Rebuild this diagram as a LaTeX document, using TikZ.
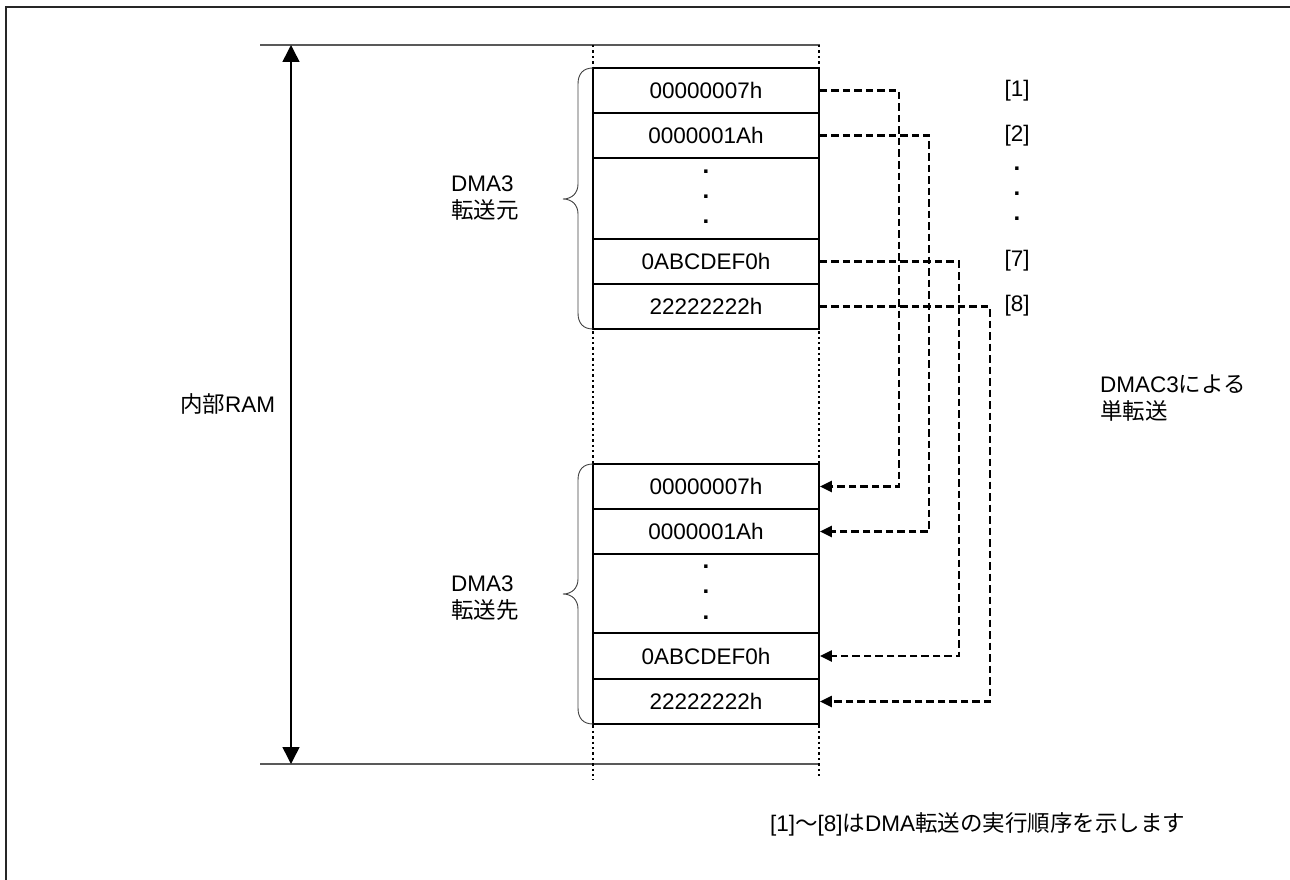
\documentclass[tikz,border=0pt]{standalone}
\usepackage{fontspec}
\setmainfont{Liberation Sans}
\newfontfamily\jp{Noto Sans CJK JP}
\usetikzlibrary{arrows.meta}
\begin{document}
\begin{tikzpicture}[x=1pt,y=-1pt,
  font=\fontsize{22.5}{26}\selectfont,
  cell/.style={draw, line width=1.9pt, minimum width=226pt, minimum height=45pt, inner sep=0pt},
  dcell/.style={draw, line width=1.9pt, minimum width=226pt, inner sep=0pt},
  conn/.style={line width=2.4pt, dash pattern=on 7.5pt off 4pt, -{Triangle[length=12pt,width=11pt]}},
  guide/.style={draw=black!65, line width=1.4pt},
  dotline/.style={line width=2.4pt, dash pattern=on 2.4pt off 3pt},
  brace/.style={draw=black!75, line width=0.9pt},
  frame/.style={draw=black!85, line width=2pt},
  dim/.style={line width=1.5pt, {Triangle[length=17pt,width=17pt]}-{Triangle[length=17pt,width=17pt]}},
  lbl/.style={inner sep=0pt},
  two/.style={inner sep=0pt, anchor=west, align=left, font=\fontsize{22.5}{27}\selectfont},
  dot/.style={inner sep=0pt, font=\fontsize{24}{26}\selectfont\bfseries}
]
\useasboundingbox (0,0) rectangle (1290,880);
% outer frame (right and bottom edges lie outside the picture)
\draw[frame] (6,880) -- (6,7) -- (1290,7);

% top / bottom guide lines
\coordinate (tl) at (260,45);
\coordinate (tr) at (820,45);
\coordinate (bl) at (260,764);
\coordinate (br) at (820,764);
\draw[guide] (tl) -- (tr);
\draw[guide] (bl) -- (br);

% size arrow
\coordinate (at) at (291,45);
\coordinate (ab) at (291,764);
\draw[dim] (at) -- (ab);
\node[lbl, anchor=west] (ram) at (180,404) {{\jp 内部}RAM};

% source cells
\node[cell] (s1) at (706,90.5) {00000007h};
\node[cell] (s2) at (706,135.5) {0000001Ah};
\node[dcell, minimum height=81pt] (sd) at (706,198.5) {};
\node[cell] (s7) at (706,261.5) {0ABCDEF0h};
\node[cell] (s8) at (706,306.5) {22222222h};
\node[dot] (sdot1) at (706,172) {.};
\node[dot] (sdot2) at (706,197) {.};
\node[dot] (sdot3) at (706,222) {.};

% destination cells
\node[cell] (d1) at (706,486.5) {00000007h};
\node[cell] (d2) at (706,531.5) {0000001Ah};
\node[dcell, minimum height=79pt] (dd) at (706,593.5) {};
\node[cell] (d7) at (706,656) {0ABCDEF0h};
\node[cell] (d8) at (706,701.5) {22222222h};
\node[dot] (ddot1) at (706,567) {.};
\node[dot] (ddot2) at (706,592) {.};
\node[dot] (ddot3) at (706,618) {.};

% dotted column lines
\coordinate (lt) at (593,45);
\coordinate (lb) at (593,780);
\coordinate (rt) at (819,45);
\coordinate (rb) at (819,776);
\draw[dotline] (lt) -- (lb);
\draw[dotline] (rt) -- (rb);

% braces
\draw[brace] (593,68) .. controls (583,68) and (578,74) .. (578,84) -- (578,184)
  .. controls (578,193) and (572,199) .. (563,199)
  .. controls (572,199) and (578,205) .. (578,214) -- (578,313)
  .. controls (578,323) and (583,329) .. (593,329);
\draw[brace] (593,464) .. controls (583,464) and (578,470) .. (578,480) -- (578,579)
  .. controls (578,588) and (572,594) .. (563,594)
  .. controls (572,594) and (578,600) .. (578,609) -- (578,708)
  .. controls (578,718) and (583,724) .. (593,724);

\node[two] (srclbl) at (451,198) {DMA3\\{\jp 転送元}};
\node[two] (dstlbl) at (451,598) {DMA3\\{\jp 転送先}};

% transfers
\draw[conn] (s1.east) -- ++(79,0) |- (d1.east);
\draw[conn] (s2.east) -- ++(109,0) |- (d2.east);
\draw[conn] (s7.east) -- ++(139,0) |- (d7.east);
\draw[conn] (s8.east) -- ++(170,0) |- (d8.east);

% order labels
\node[lbl] (o1) at (1017,91) {[1]};
\node[lbl] (o2) at (1017,136) {[2]};
\node[dot] (od1) at (1017,169) {.};
\node[dot] (od2) at (1017,194) {.};
\node[dot] (od3) at (1017,219) {.};
\node[lbl] (o7) at (1017,261) {[7]};
\node[lbl] (o8) at (1017,306) {[8]};

\node[two] (mode) at (1100,398) {DMAC3{\jp による}\\{\jp 単転送}};

\node[lbl, anchor=west] (note) at (770,824) {[1]{\jp ～}[8]{\jp は}DMA{\jp 転送の実行順序を示します}};
\end{tikzpicture}
\end{document}
